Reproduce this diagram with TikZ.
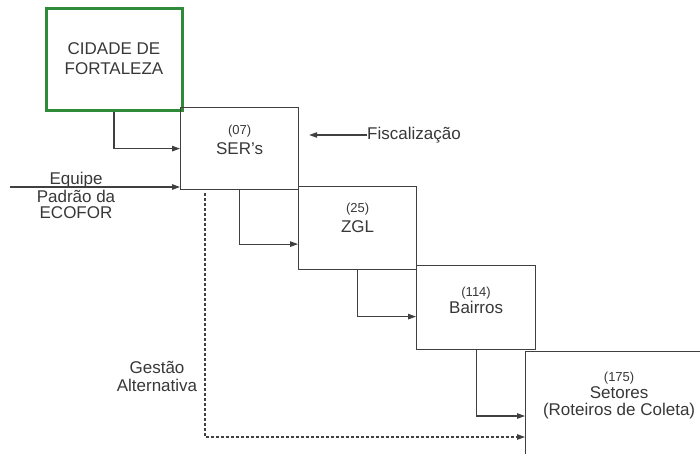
\documentclass[tikz,border=0pt]{standalone}
\usepackage{fontspec}
\setmainfont{Liberation Sans}
\usetikzlibrary{positioning,arrows.meta,calc}
\definecolor{citygreen}{HTML}{2F8A3A}
\definecolor{inkgrey}{HTML}{404040}
\definecolor{txtgrey}{HTML}{383838}
\tikzset{
  blk/.style={rectangle, draw=inkgrey, line width=1.2pt, inner sep=0pt,
              anchor=north west},
  txt/.style={font=\fontsize{17}{20}\selectfont, text=txtgrey, align=center,
              inner sep=0pt},
  ar/.style={-{Triangle[length=8pt,width=5.5pt]}, line width=1.1pt, draw=inkgrey},
  lbl/.style={font=\fontsize{17}{17}\selectfont, text=txtgrey, align=center,
              inner sep=0pt},
}
\newcommand{\qtd}[1]{{\fontsize{13}{14}\selectfont #1}}

\begin{document}
\begin{tikzpicture}[x=1pt, y=-1pt]
  \clip (0,0) rectangle (700,453);
  \fill[white] (0,0) rectangle (700,453);

  \node[blk, draw=citygreen, line width=3pt, minimum width=136pt, minimum height=102pt,
        label={[txt, font=\fontsize{17}{20}\selectfont]center:CIDADE DE\\FORTALEZA}]
        (cidade) at (44.5,6.5) {};
  \node[blk, minimum width=118pt, minimum height=82pt,
        label={[txt, yshift=9pt]center:\qtd{(07)}\\SER's}] (ser) at (180,107) {};
  \node[blk, minimum width=118pt, minimum height=83pt,
        label={[txt, yshift=10pt]center:\qtd{(25)}\\ZGL}] (zgl) at (298,186) {};
  \node[blk, minimum width=119pt, minimum height=84pt,
        label={[txt, yshift=7pt]center:\qtd{(114)}\\[-3pt]Bairros}] (bairros) at (416,265) {};
  \node[blk, minimum width=200pt, minimum height=120pt,
        label={[txt, xshift=-6.5pt, yshift=16.5pt]center:\qtd{(175)}\\[-3pt]Setores\\[-3pt](Roteiros de Coleta)}]
        (setores) at (525,351) {};

  % entradas laterais
  \node[lbl, anchor=west] (fisc) at (367,135) {Fiscaliza\c{c}\~ao};
  \coordinate (fiscend) at ($(ser.east |- fisc.west)+(10,0)$);
  \node[lbl, font=\fontsize{17}{16}\selectfont] (equipe) at (76,195) {Equipe\\[2pt]Padr\~ao da\\ECOFOR};
  \coordinate (equipein) at (10,187);
  \node[lbl, font=\fontsize{17}{18}\selectfont] (gestao) at (157,376) {Gest\~ao\\Alternativa};

  \draw[ar] (cidade.south) |- (ser.west);
  \draw[ar] (equipein) -- (equipein -| ser.west);
  \draw[ar] (fisc.west) -- (fiscend);
  \draw[ar] (ser.south) |- ([yshift=-16pt]zgl.west);
  \draw[ar] (zgl.south) |- ([yshift=-9pt]bairros.west);
  \draw[ar] (bairros.south) |- ([yshift=-65pt]setores.north west);
  \draw[ar, dash pattern=on 3pt off 2pt] ([xshift=25pt,yshift=-3pt]ser.south west)
        |- ([yshift=-86pt]setores.north west);
\end{tikzpicture}
\end{document}
